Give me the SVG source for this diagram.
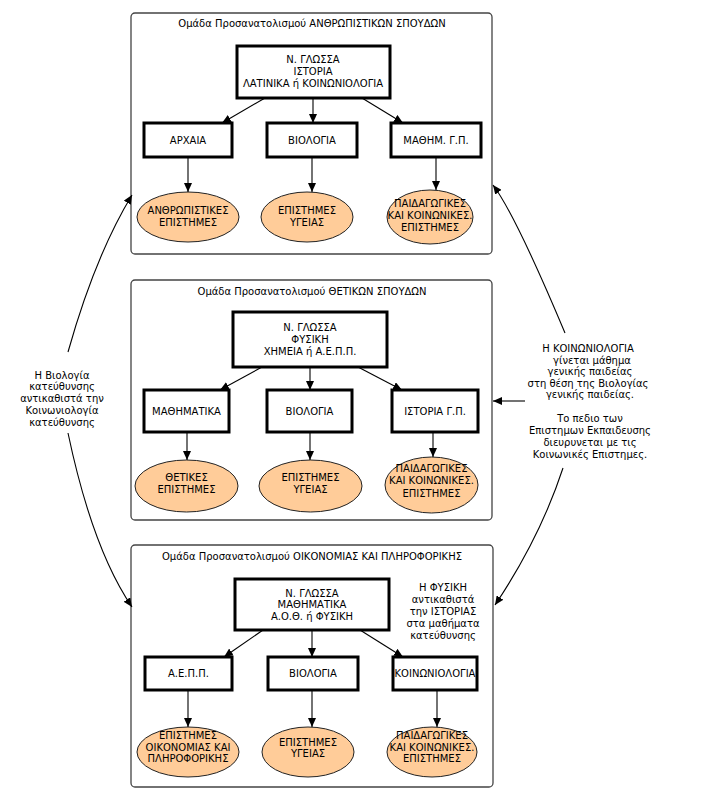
<svg xmlns="http://www.w3.org/2000/svg" width="715" height="800" viewBox="0 0 715 800">
<style>
text{font-family:"DejaVu Sans",sans-serif;font-size:10px;fill:#000;text-anchor:middle}
.frame{fill:#fff;stroke:#444;stroke-width:1.3}
.box{fill:#fff;stroke:#000;stroke-width:3}
.ell{fill:#FFCC99;stroke:#222;stroke-width:1}
.con{fill:none;stroke:#000;stroke-width:1.1;marker-end:url(#ah)}
</style>
<defs>
<marker id="ah" markerUnits="userSpaceOnUse" markerWidth="10" markerHeight="8" refX="9" refY="4" orient="auto">
<path d="M0,0 L9,4 L0,8 z" fill="#000"/>
</marker>
</defs>
<rect width="715" height="800" fill="#fff"/>

<g id="group1">
<rect class="frame" x="131" y="13" width="361" height="241" rx="4"/>
<text x="312" y="27">Ομάδα Προσανατολισμού ΑΝΘΡΩΠΙΣΤΙΚΩΝ ΣΠΟΥΔΩΝ</text>
</g>
<g id="g1-top"><rect class="box" x="237" y="46" width="153" height="52"/>
<text x="313" y="63">Ν. ΓΛΩΣΣΑ</text><text x="313" y="75">ΙΣΤΟΡΙΑ</text><text x="313" y="87">ΛΑΤΙΝΙΚΑ ή ΚΟΙΝΩΝΙΟΛΟΓΙΑ</text></g>
<g id="g1-b1"><rect class="box" x="144" y="123" width="88" height="34"/><text x="188" y="143.5">ΑΡΧΑΙΑ</text></g>
<g id="g1-b2"><rect class="box" x="267" y="123" width="90" height="34"/><text x="312" y="143.5">ΒΙΟΛΟΓΙΑ</text></g>
<g id="g1-b3"><rect class="box" x="391" y="123" width="90" height="34"/><text x="436" y="143.5">ΜΑΘΗΜ. Γ.Π.</text></g>
<g id="g1-e1"><ellipse class="ell" cx="188" cy="217" rx="51" ry="25"/><text x="188" y="214">ΑΝΘΡΩΠΙΣΤΙΚΕΣ</text><text x="188" y="226">ΕΠΙΣΤΗΜΕΣ</text></g>
<g id="g1-e2"><ellipse class="ell" cx="307" cy="217" rx="46" ry="25"/><text x="307" y="214">ΕΠΙΣΤΗΜΕΣ</text><text x="307" y="226">ΥΓΕΙΑΣ</text></g>
<g id="g1-e3"><ellipse class="ell" cx="430" cy="217" rx="43" ry="27"/><text x="430" y="207">ΠΑΙΔΑΓΩΓΙΚΕΣ</text><text x="430" y="219">ΚΑΙ ΚΟΙΝΩΝΙΚΕΣ.</text><text x="430" y="231">ΕΠΙΣΤΗΜΕΣ</text></g>

<g id="group2">
<rect class="frame" x="131" y="280" width="361" height="240" rx="4"/>
<text x="312" y="295">Ομάδα Προσανατολισμού ΘΕΤΙΚΩΝ ΣΠΟΥΔΩΝ</text>
</g>
<g id="g2-top"><rect class="box" x="233" y="312" width="154" height="55"/>
<text x="310" y="331">Ν. ΓΛΩΣΣΑ</text><text x="310" y="343">ΦΥΣΙΚΗ</text><text x="310" y="355">ΧΗΜΕΙΑ ή Α.Ε.Π.Π.</text></g>
<g id="g2-b1"><rect class="box" x="144" y="390" width="85" height="42"/><text x="186.5" y="414.5">ΜΑΘΗΜΑΤΙΚΑ</text></g>
<g id="g2-b2"><rect class="box" x="267" y="390" width="85" height="42"/><text x="309.5" y="414.5">ΒΙΟΛΟΓΙΑ</text></g>
<g id="g2-b3"><rect class="box" x="392" y="390" width="86" height="42"/><text x="435" y="414.5">ΙΣΤΟΡΙΑ Γ.Π.</text></g>
<g id="g2-e1"><ellipse class="ell" cx="186.5" cy="486" rx="51.5" ry="26"/><text x="186.5" y="481">ΘΕΤΙΚΕΣ</text><text x="186.5" y="493">ΕΠΙΣΤΗΜΕΣ</text></g>
<g id="g2-e2"><ellipse class="ell" cx="310.5" cy="486" rx="51.5" ry="26"/><text x="310.5" y="481">ΕΠΙΣΤΗΜΕΣ</text><text x="310.5" y="493">ΥΓΕΙΑΣ</text></g>
<g id="g2-e3"><ellipse class="ell" cx="431.5" cy="485" rx="46.5" ry="28"/><text x="431.5" y="472">ΠΑΙΔΑΓΩΓΙΚΕΣ</text><text x="431.5" y="484">ΚΑΙ ΚΟΙΝΩΝΙΚΕΣ.</text><text x="431.5" y="497">ΕΠΙΣΤΗΜΕΣ</text></g>

<g id="group3">
<rect class="frame" x="131" y="545" width="362" height="242" rx="4"/>
<text x="312" y="560">Ομάδα Προσανατολισμού ΟΙΚΟΝΟΜΙΑΣ ΚΑΙ ΠΛΗΡΟΦΟΡΙΚΗΣ</text>
<text x="443" y="591">Η ΦΥΣΙΚΗ</text><text x="443" y="603">αντικαθιστά</text><text x="443" y="615">την ΙΣΤΟΡΙΑΣ</text><text x="443" y="627">στα μαθήματα</text><text x="443" y="639">κατεύθυνσης</text>
</g>
<g id="g3-top"><rect class="box" x="235" y="579" width="154" height="51"/>
<text x="312" y="597">Ν. ΓΛΩΣΣΑ</text><text x="312" y="608">ΜΑΘΗΜΑΤΙΚΑ</text><text x="312" y="620">Α.Ο.Θ. ή ΦΥΣΙΚΗ</text></g>
<g id="g3-b1"><rect class="box" x="145" y="657" width="87" height="33"/><text x="188.5" y="677">Α.Ε.Π.Π.</text></g>
<g id="g3-b2"><rect class="box" x="268" y="657" width="90" height="33"/><text x="313" y="677">ΒΙΟΛΟΓΙΑ</text></g>
<g id="g3-b3"><rect class="box" x="393" y="657" width="84" height="33"/><text x="435" y="677">ΚΟΙΝΩΝΙΟΛΟΓΙΑ</text></g>
<g id="g3-e1"><ellipse class="ell" cx="188" cy="752" rx="51" ry="25"/><text x="188" y="739">ΕΠΙΣΤΗΜΕΣ</text><text x="188" y="751">ΟΙΚΟΝΟΜΙΑΣ ΚΑΙ</text><text x="188" y="762">ΠΛΗΡΟΦΟΡΙΚΗΣ</text></g>
<g id="g3-e2"><ellipse class="ell" cx="308" cy="752" rx="46" ry="25"/><text x="308" y="746">ΕΠΙΣΤΗΜΕΣ</text><text x="308" y="757">ΥΓΕΙΑΣ</text></g>
<g id="g3-e3"><ellipse class="ell" cx="432" cy="752" rx="45" ry="25"/><text x="432" y="739">ΠΑΙΔΑΓΩΓΙΚΕΣ</text><text x="432" y="751">ΚΑΙ ΚΟΙΝΩΝΙΚΕΣ.</text><text x="432" y="762">ΕΠΙΣΤΗΜΕΣ</text></g>

<g id="note-left">
<text x="62" y="379">Η Βιολογία</text><text x="62" y="390">κατεύθυνσης</text><text x="62" y="402">αντικαθιστά την</text><text x="62" y="414">Κοινωνιολογία</text><text x="62" y="426">κατεύθυνσης</text>
</g>
<g id="note-right">
<text x="588" y="352">Η ΚΟΙΝΩΝΙΟΛΟΓΙΑ</text><text x="592" y="364">γίνεται μάθημα</text><text x="590" y="375">γενικής παιδείας</text><text x="588" y="387">στη θέση της Βιολογίας</text><text x="590" y="398">γενικής παιδείας.</text>
<text x="590" y="422">Το πεδιο των</text><text x="590" y="434">Επιστημων Εκπαιδευσης</text><text x="590" y="446">διευρυνεται με τις</text><text x="590" y="458">Κοινωνικές Επιστημες.</text>
</g>

<g id="connectors">
<line class="con" x1="265" y1="98" x2="222" y2="123"/>
<line class="con" x1="313" y1="98" x2="313" y2="123"/>
<line class="con" x1="362" y1="98" x2="403" y2="123"/>
<line class="con" x1="188" y1="157" x2="188" y2="192"/>
<line class="con" x1="312" y1="157" x2="312" y2="192"/>
<line class="con" x1="436" y1="157" x2="436" y2="190"/>

<line class="con" x1="262" y1="367" x2="220" y2="390"/>
<line class="con" x1="310" y1="367" x2="310" y2="390"/>
<line class="con" x1="358" y1="367" x2="402" y2="390"/>
<line class="con" x1="187" y1="432" x2="187" y2="460"/>
<line class="con" x1="310" y1="432" x2="310" y2="460"/>
<line class="con" x1="433" y1="432" x2="433" y2="457"/>

<line class="con" x1="263" y1="630" x2="224" y2="657"/>
<line class="con" x1="312" y1="630" x2="312" y2="657"/>
<line class="con" x1="360" y1="630" x2="403" y2="657"/>
<line class="con" x1="188" y1="690" x2="188" y2="727"/>
<line class="con" x1="312" y1="690" x2="312" y2="727"/>
<line class="con" x1="437" y1="690" x2="437" y2="727"/>

<path class="con" d="M68,352 Q95,256 132,195"/>
<path class="con" d="M68,433 C80,490 100,560 132,607"/>
<path class="con" d="M565,333 Q515,214 493,185"/>
<path class="con" d="M563,468 Q540,538 495,605"/>
<line class="con" x1="525" y1="401" x2="493" y2="401"/>
</g>
</svg>
